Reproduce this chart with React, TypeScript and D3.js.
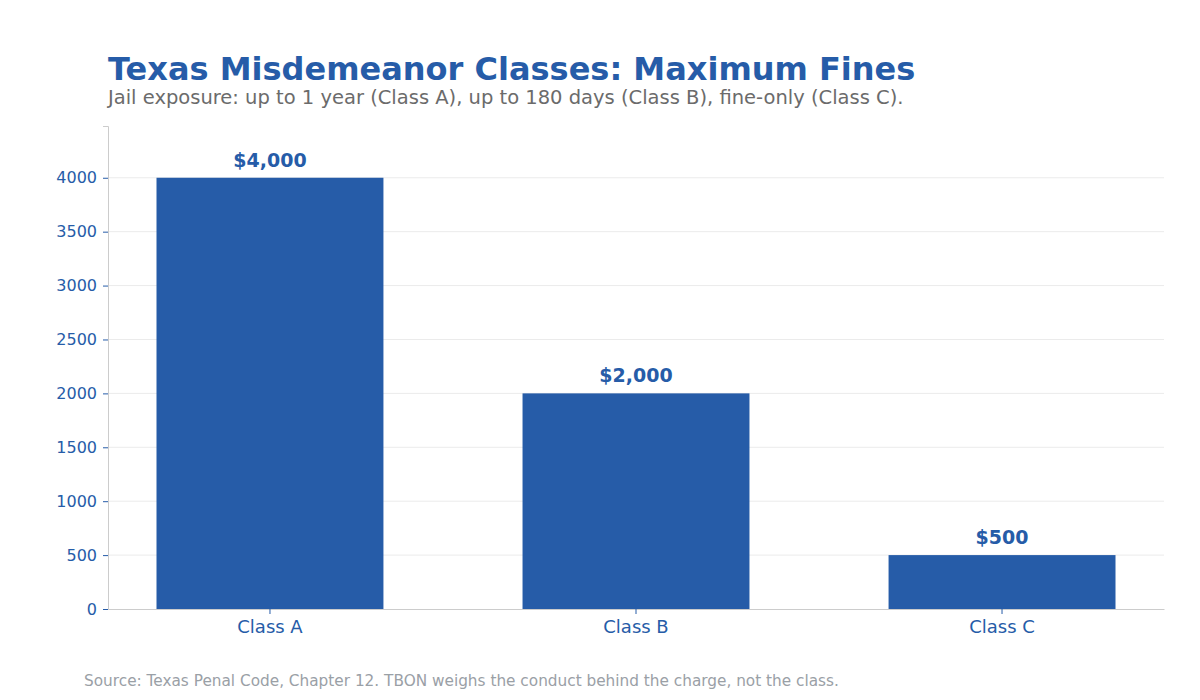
import { useEffect, useRef } from 'react';
import * as d3 from 'd3';

const categories = ['Class A', 'Class B', 'Class C'];
const maxFines = [4000, 2000, 500];
const fineLabels = ['$4,000', '$2,000', '$500'];
const yTicks = [0, 500, 1000, 1500, 2000, 2500, 3000, 3500, 4000];

const W = 1200;
const H = 700;
const BLUE = '#265ca8';
const FONT = '"DejaVu Sans", Verdana, sans-serif';

export default function App() {
	const svgRef = useRef<SVGSVGElement>(null);

	useEffect(() => {
		if (!svgRef.current) return;
		const svg = d3.select(svgRef.current);
		svg.selectAll('*').remove();

		const margin = { top: 126, right: 36, bottom: 91, left: 108 };
		const innerW = W - margin.left - margin.right;
		const innerH = H - margin.top - margin.bottom;

		// Title and subtitle
		svg
			.append('text')
			.attr('x', 108)
			.attr('y', 80)
			.attr('fill', BLUE)
			.style('font-family', FONT)
			.style('font-size', '32px')
			.style('font-weight', 'bold')
			.text('Texas Misdemeanor Classes: Maximum Fines');

		svg
			.append('text')
			.attr('x', 108)
			.attr('y', 104)
			.attr('fill', '#6b6b6b')
			.style('font-family', FONT)
			.style('font-size', '19.5px')
			.text('Jail exposure: up to 1 year (Class A), up to 180 days (Class B), fine-only (Class C).');

		const g = svg.append('g').attr('transform', `translate(${margin.left},${margin.top})`);

		const x = d3
			.scaleBand()
			.domain(categories)
			.range([0, innerW])
			.paddingInner(0.38)
			.paddingOuter(0.1325);

		const y = d3
			.scaleLinear()
			.domain([0, d3.max(maxFines)! * 1.12])
			.range([innerH, 0]);

		// Grid lines
		g.append('g')
			.selectAll('line')
			.data(yTicks.filter((t) => t > 0))
			.enter()
			.append('line')
			.attr('x1', 0)
			.attr('x2', innerW)
			.attr('y1', (d) => y(d))
			.attr('y2', (d) => y(d))
			.attr('stroke', '#ebebeb')
			.attr('stroke-width', 1);

		// Bars
		g.selectAll('.bar')
			.data(maxFines)
			.enter()
			.append('rect')
			.attr('class', 'bar')
			.attr('x', (_, i) => x(categories[i]) || 0)
			.attr('y', (d) => y(d))
			.attr('width', x.bandwidth())
			.attr('height', (d) => innerH - y(d))
			.attr('fill', BLUE);

		// Value labels
		g.selectAll('.val')
			.data(maxFines)
			.enter()
			.append('text')
			.attr('class', 'val')
			.attr('x', (_, i) => (x(categories[i]) || 0) + x.bandwidth() / 2)
			.attr('y', (d) => y(d) - 11)
			.attr('text-anchor', 'middle')
			.attr('fill', BLUE)
			.style('font-family', FONT)
			.style('font-size', '19px')
			.style('font-weight', 'bold')
			.text((_, i) => fineLabels[i]);

		// Y axis
		const yAxis = g
			.append('g')
			.call(d3.axisLeft(y).tickValues(yTicks).tickSize(5).tickPadding(6).tickFormat((d) => String(d)));
		yAxis.select('.domain').attr('stroke', '#cccccc');
		yAxis.selectAll('.tick line').attr('stroke', BLUE);
		yAxis
			.selectAll('text')
			.attr('fill', BLUE)
			.style('font-family', FONT)
			.style('font-size', '16px');

		// X axis
		const xAxis = g
			.append('g')
			.attr('transform', `translate(0,${innerH})`)
			.call(d3.axisBottom(x).tickSize(5).tickPadding(6).tickSizeOuter(0));
		xAxis.select('.domain').attr('stroke', '#cccccc');
		xAxis.selectAll('.tick line').attr('stroke', BLUE);
		xAxis
			.selectAll('text')
			.attr('fill', BLUE)
			.style('font-family', FONT)
			.style('font-size', '18px');

		// Footer
		svg
			.append('text')
			.attr('x', 84)
			.attr('y', 686)
			.attr('fill', '#9aa0a6')
			.style('font-family', FONT)
			.style('font-size', '15.3px')
			.text('Source: Texas Penal Code, Chapter 12. TBON weighs the conduct behind the charge, not the class.');
	}, []);

	return (
		<svg
			ref={svgRef}
			width={W}
			height={H}
			style={{ position: 'absolute', left: 0, top: 0, background: '#fff', display: 'block' }}
		></svg>
	);
}
